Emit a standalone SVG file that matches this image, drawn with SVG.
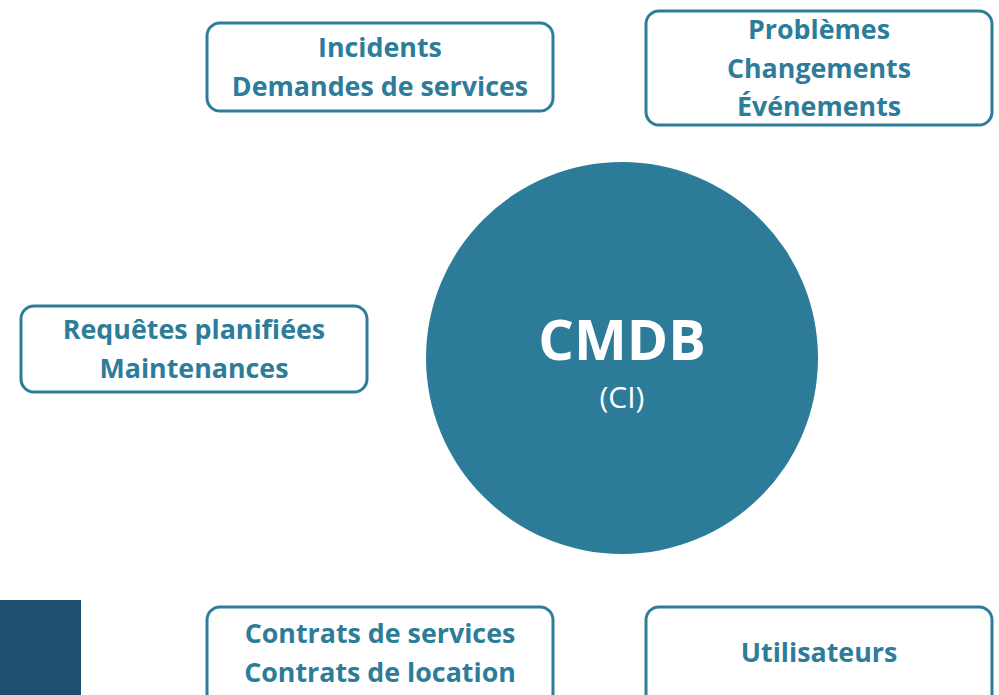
<svg xmlns="http://www.w3.org/2000/svg" width="999" height="695" viewBox="0 0 999 695">
<style>
.box{fill:#ffffff;stroke:#2d7c9a;stroke-width:3}
.lbl{font-family:"Open Sans","Liberation Sans",sans-serif;font-weight:bold;font-size:26.8px;fill:#2d7c9a;text-anchor:middle}
.ctr{font-family:"Open Sans","Liberation Sans",sans-serif;fill:#ffffff;text-anchor:middle}
</style>
<rect width="999" height="695" fill="#ffffff"/>
<rect x="0" y="600" width="81" height="95" fill="#1e4f6e"/>
<g id="cmdb">
<circle cx="622" cy="358" r="196" fill="#2c7b99"/>
<text class="ctr" x="622" y="360" font-size="56" font-weight="bold">CMDB</text>
<text class="ctr" x="622" y="408" font-size="30">(CI)</text>
</g>
<g id="incidents">
<rect class="box" x="207" y="23" width="346" height="88" rx="13"/>
<text class="lbl" x="380" y="57">Incidents</text>
<text class="lbl" x="380" y="96">Demandes de services</text>
</g>
<g id="problemes">
<rect class="box" x="646" y="11" width="346" height="114" rx="13"/>
<text class="lbl" x="819" y="39">Problèmes</text>
<text class="lbl" x="819" y="78">Changements</text>
<text class="lbl" x="819" y="116">Événements</text>
</g>
<g id="requetes">
<rect class="box" x="21" y="306" width="346" height="86" rx="13"/>
<text class="lbl" x="194" y="339">Requêtes planifiées</text>
<text class="lbl" x="194" y="378">Maintenances</text>
</g>
<g id="contrats">
<rect class="box" x="207" y="607" width="346" height="100" rx="13"/>
<text class="lbl" x="380" y="643">Contrats de services</text>
<text class="lbl" x="380" y="682">Contrats de location</text>
</g>
<g id="utilisateurs">
<rect class="box" x="646" y="607" width="346" height="100" rx="13"/>
<text class="lbl" x="819" y="662">Utilisateurs</text>
</g>
<g id="connectors"></g>
</svg>
